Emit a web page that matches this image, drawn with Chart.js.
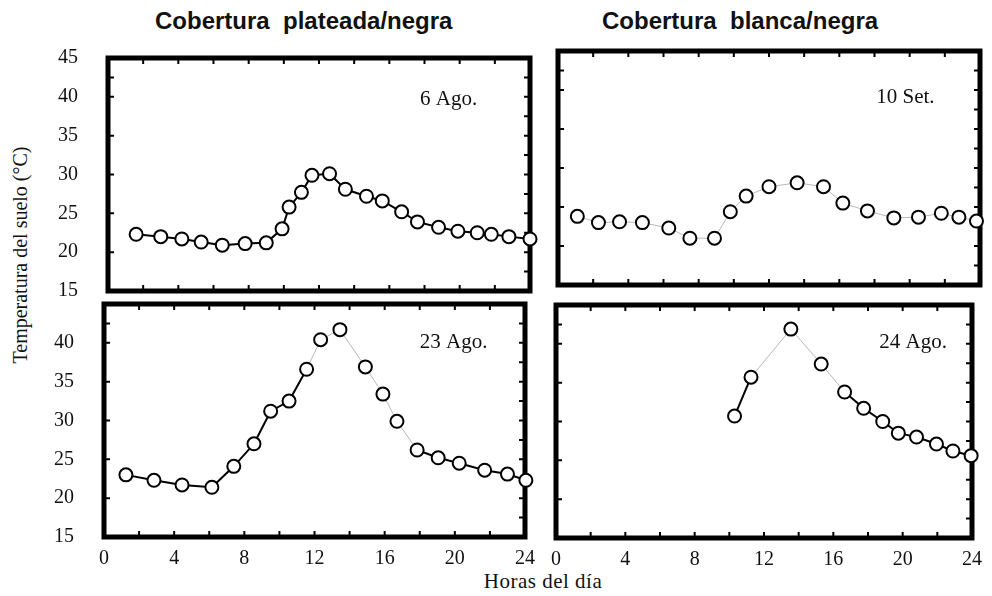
<!DOCTYPE html>
<html><head><meta charset="utf-8">
<script src="https://cdn.jsdelivr.net/npm/chart.js@4.4.0/dist/chart.umd.min.js"></script>
<style>
html,body{margin:0;padding:0;background:#fff;}
body{width:992px;height:596px;position:relative;overflow:hidden;}
canvas{position:absolute;left:0;top:0;}
.title{position:absolute;font:bold 24px "Liberation Sans",Arial,sans-serif;line-height:24px;white-space:pre;color:#111;}
.serif{position:absolute;font:20px "Liberation Serif","Times New Roman",serif;line-height:20px;color:#111;white-space:nowrap;}
</style></head><body>
<div class="title" style="left:155px;top:9px">Cobertura  plateada/negra</div>
<div class="title" style="left:602px;top:9px">Cobertura  blanca/negra</div>
<div class="serif" style="left:443px;top:571px;width:200px;text-align:center;font-size:21px;letter-spacing:0.5px">Horas del día</div>
<div class="serif" style="left:-130.5px;top:245px;width:300px;text-align:center;transform:rotate(-90deg)">Temperatura del suelo (°C)</div>
<canvas id="c1" width="992" height="596"></canvas>
<canvas id="c2" width="992" height="596"></canvas>
<canvas id="c3" width="992" height="596"></canvas>
<canvas id="c4" width="992" height="596"></canvas>
<script>
// ---- data ----
const hours6Ago = [1.6,3.0,4.2,5.3,6.5,7.8,9.0,9.9,10.3,11.0,11.6,12.6,13.5,14.7,15.6,16.7,17.6,18.8,19.9,21.0,21.8,22.8,24.0];
const temp6Ago  = [22.3,22.0,21.7,21.3,20.9,21.1,21.2,23.0,25.8,27.7,29.9,30.1,28.1,27.2,26.6,25.2,23.9,23.2,22.7,22.5,22.3,22.0,21.7];

const hours10Set = [1.1,2.3,3.5,4.8,6.3,7.5,8.9,9.8,10.7,12.0,13.6,15.1,16.2,17.6,19.1,20.5,21.8,22.8,23.8];
const temp10Set  = [23.8,23.0,23.1,23.0,22.3,21.0,21.0,24.4,26.4,27.6,28.1,27.6,25.5,24.5,23.6,23.7,24.2,23.7,23.2];

const hours23Ago = [1.25,2.85,4.45,6.15,7.4,8.55,9.5,10.55,11.55,12.35,13.45,14.9,15.9,16.7,17.85,19.05,20.25,21.7,23.0,24.05];
const temp23Ago  = [23.0,22.3,21.7,21.4,24.1,27.0,31.2,32.5,36.6,40.4,41.7,36.9,33.4,29.9,26.2,25.2,24.5,23.6,23.1,22.3];

const hours24Ago = [10.3,11.25,13.55,15.3,16.65,17.75,18.85,19.75,20.8,21.95,22.9,23.95];
const temp24Ago  = [30.7,35.7,41.9,37.4,33.8,31.7,30.0,28.5,28.0,27.1,26.2,25.6];

const xTickLabels = [0,4,8,12,16,20,24];
const yTickLabels = [15,20,25,30,35,40,45];

// ---- styling / layout ----
const W = 992, H = 596;
const X_MINOR = [2,4,6,8,10,12,14,16,18,20,22];
const Y_LEFT = [20,25,30,35,40,42.5];
const Y_RIGHT = [17.5,20,22.5,25,27.5,30,32.5,35,37.5,40,42.5];

const framePlugin = {
  id: 'frame',
  beforeDatasetsDraw(chart, args, opts) {
    const {ctx, chartArea: a, scales: {x, y}} = chart;
    ctx.save();
    ctx.strokeStyle = '#000';
    ctx.lineWidth = 2;
    ctx.beginPath();
    const L = 6;
    for (const v of X_MINOR) {
      const px = x.getPixelForValue(v);
      ctx.moveTo(px, a.top); ctx.lineTo(px, a.top + L);
      ctx.moveTo(px, a.bottom); ctx.lineTo(px, a.bottom - L);
    }
    for (const v of Y_LEFT) {
      const py = y.getPixelForValue(v);
      ctx.moveTo(a.left, py); ctx.lineTo(a.left + L, py);
    }
    for (const v of Y_RIGHT) {
      const py = y.getPixelForValue(v);
      ctx.moveTo(a.right, py); ctx.lineTo(a.right - L, py);
    }
    ctx.stroke();
    ctx.lineWidth = 5;
    ctx.strokeRect(a.left, a.top, a.right - a.left, a.bottom - a.top);
    ctx.fillStyle = '#111';
    ctx.font = '21px "Liberation Serif", "Times New Roman", serif';
    ctx.textAlign = 'left';
    ctx.textBaseline = 'middle';
    ctx.fillText(opts.label, x.getPixelForValue(opts.at[0]), y.getPixelForValue(opts.at[1]));
    ctx.restore();
  }
};

const tickFont = {family: '"Liberation Serif", "Times New Roman", serif', size: 20};
const YW = 50, XH = 40;

function makePanel(id, hours, temps, frame, o) {
  const pts = hours.map((h, i) => ({x: h, y: temps[i]}));
  const grey = i => o.allGrey || (o.greySeg && o.greySeg.includes(i));
  new Chart(document.getElementById(id), {
    type: 'line',
    data: { datasets: [{
      data: pts,
      borderColor: '#000',
      borderWidth: o.allGrey ? 1 : 2,
      pointRadius: 6.5,
      pointBorderWidth: 2,
      pointBackgroundColor: '#fff',
      pointBorderColor: '#000',
      tension: 0,
      clip: false,
      segment: {
        borderColor: c => grey(c.p0DataIndex) ? '#b8b8b8' : '#000',
        borderWidth: c => grey(c.p0DataIndex) ? 1 : 2
      }
    }]},
    options: {
      responsive: false,
      animation: false,
      events: [],
      layout: {
        autoPadding: false,
        padding: {
          left: frame.l - (o.showY ? YW : 0),
          right: W - frame.r,
          top: frame.t,
          bottom: H - frame.b - (o.showX ? XH : 0)
        }
      },
      plugins: { legend: {display: false}, tooltip: {enabled: false}, frame: {label: o.label, at: o.labelAt} },
      scales: {
        x: {
          type: 'linear', min: 0, max: 24, display: o.showX,
          grid: {display: false, drawTicks: false}, border: {display: false},
          afterFit: s => { s.height = o.showX ? XH : 0; },
          afterBuildTicks: s => { s.ticks = xTickLabels.map(v => ({value: v})); },
          ticks: {font: tickFont, color: '#111', padding: 10, maxRotation: 0, autoSkip: false}
        },
        y: {
          type: 'linear', min: 15, max: 45, display: o.showY,
          grid: {display: false, drawTicks: false}, border: {display: false},
          afterFit: s => { s.width = o.showY ? YW : 0; },
          afterBuildTicks: s => { s.ticks = yTickLabels.filter(v => !(o.hide45 && v === 45)).map(v => ({value: v})); },
          ticks: {font: tickFont, color: '#111', padding: 30, autoSkip: false}
        }
      }
    },
    plugins: [framePlugin]
  });
}

makePanel('c1', hours6Ago, temp6Ago, {l:108, r:530, t:58, b:291},
  {showY: true, showX: false, label: '6 Ago.', labelAt: [17.75, 39.7]});
makePanel('c2', hours10Set, temp10Set, {l:558, r:980, t:51, b:285},
  {showY: false, showX: false, allGrey: true, label: '10 Set.', labelAt: [18.1, 39.0]});
makePanel('c3', hours23Ago, temp23Ago, {l:104, r:525, t:304, b:537},
  {showY: true, showX: true, hide45: true, greySeg: [8,9,10,11,12,13], label: '23 Ago.', labelAt: [18.0, 40.1]});
makePanel('c4', hours24Ago, temp24Ago, {l:556, r:978, t:305, b:538},
  {showY: false, showX: true, greySeg: [1,2,3], label: '24 Ago.', labelAt: [18.65, 40.2]});
</script>
</body></html>
